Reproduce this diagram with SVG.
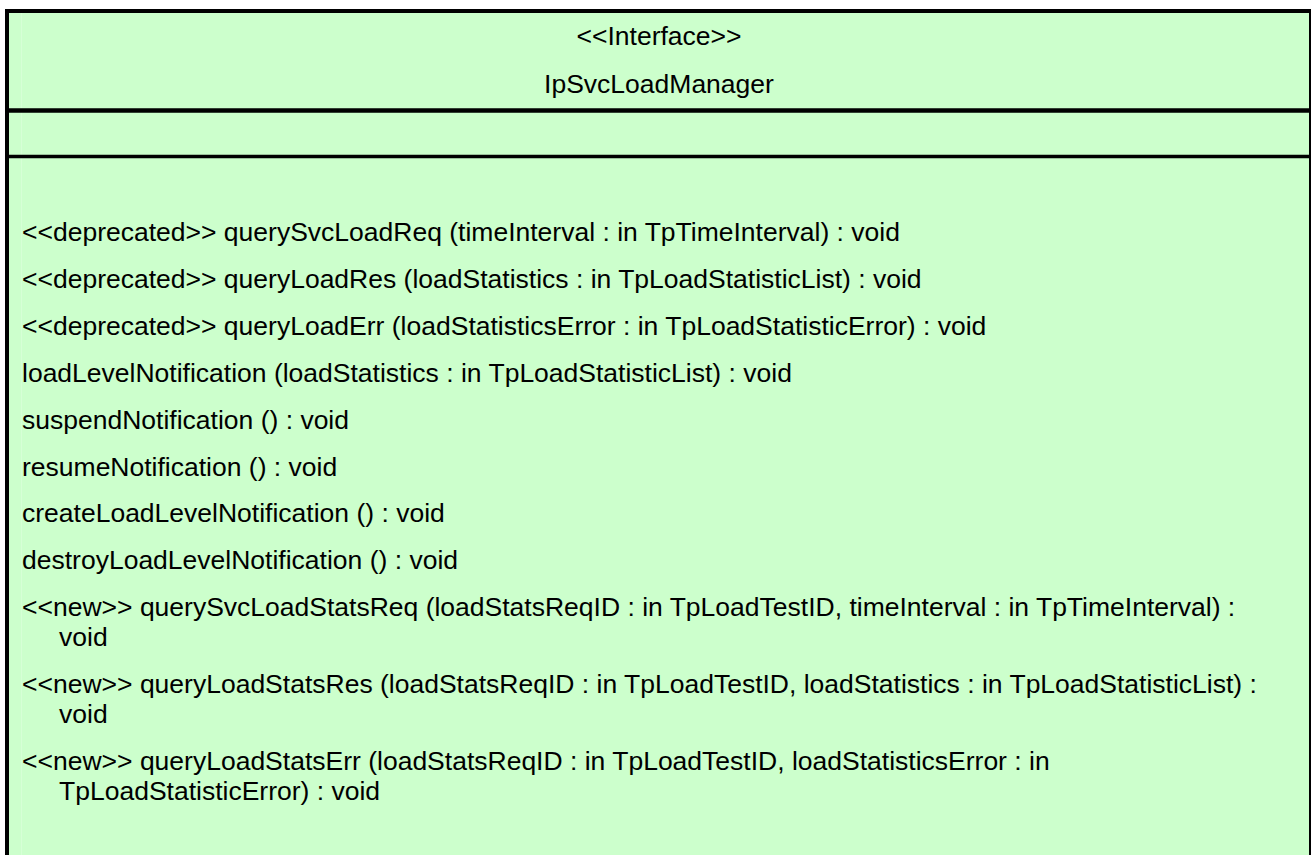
<svg xmlns="http://www.w3.org/2000/svg" width="1311" height="855" viewBox="0 0 1311 855">
<style>
.t{font-family:"Liberation Sans",Arial,sans-serif;font-size:26.5px;fill:#000}
.c{text-anchor:middle}
.rule{stroke:#000}
</style>
<rect x="0" y="0" width="1311" height="855" fill="#ffffff"/>
<g id="class-IpSvcLoadManager">
<rect x="7" y="11" width="1304" height="870" fill="#CCFFCC" stroke="#000" stroke-width="4"/>
<line x1="21.5" y1="13" x2="21.5" y2="855" stroke="#D6FFD6" stroke-width="1"/>
<line class="rule" x1="7" y1="110.5" x2="1311" y2="110.5" stroke-width="4.5"/>
<line class="rule" x1="7" y1="156.5" x2="1311" y2="156.5" stroke-width="3.5"/>
<text class="t c" x="659" y="45">&lt;&lt;Interface&gt;&gt;</text>
<text class="t c" x="659" y="93">IpSvcLoadManager</text>
<text class="t" x="22" y="241">&lt;&lt;deprecated&gt;&gt; querySvcLoadReq (timeInterval : in TpTimeInterval) : void</text>
<text class="t" x="22" y="288">&lt;&lt;deprecated&gt;&gt; queryLoadRes (loadStatistics : in TpLoadStatisticList) : void</text>
<text class="t" x="22" y="335">&lt;&lt;deprecated&gt;&gt; queryLoadErr (loadStatisticsError : in TpLoadStatisticError) : void</text>
<text class="t" x="22" y="382">loadLevelNotification (loadStatistics : in TpLoadStatisticList) : void</text>
<text class="t" x="22" y="429">suspendNotification () : void</text>
<text class="t" x="22" y="476">resumeNotification () : void</text>
<text class="t" x="22" y="522">createLoadLevelNotification () : void</text>
<text class="t" x="22" y="569">destroyLoadLevelNotification () : void</text>
<text class="t" x="22" y="616">&lt;&lt;new&gt;&gt; querySvcLoadStatsReq (loadStatsReqID : in TpLoadTestID, timeInterval : in TpTimeInterval) :</text>
<text class="t" x="59" y="646">void</text>
<text class="t" x="22" y="693">&lt;&lt;new&gt;&gt; queryLoadStatsRes (loadStatsReqID : in TpLoadTestID, loadStatistics : in TpLoadStatisticList) :</text>
<text class="t" x="59" y="723">void</text>
<text class="t" x="22" y="770">&lt;&lt;new&gt;&gt; queryLoadStatsErr (loadStatsReqID : in TpLoadTestID, loadStatisticsError : in</text>
<text class="t" x="59" y="800">TpLoadStatisticError) : void</text>
</g>
</svg>
